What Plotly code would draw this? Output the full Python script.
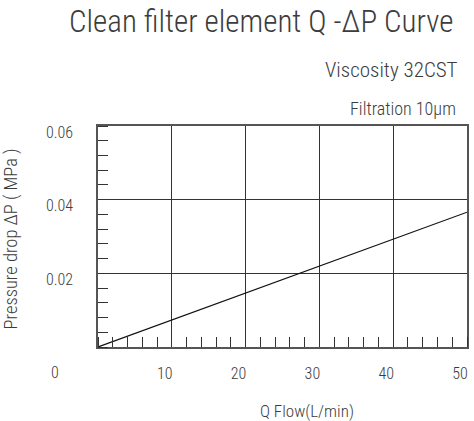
import plotly.graph_objects as go

# Data
flow_q = [0, 50]              # L/min
pressure_drop = [0, 0.0366]   # MPa
x_tick_vals = [10, 20, 30, 40, 50]
x_tick_text = ["10", "20", "30", "40", "50"]
y_tick_vals = [0.02, 0.04, 0.06]
y_tick_text = ["0.02", "0.04", "0.06"]

FONT = "Roboto Condensed, DejaVu Sans Condensed, sans-serif"
TXT = "#3c3c3c"

fig = go.Figure()
fig.add_trace(go.Scatter(x=flow_q, y=pressure_drop, mode="lines",
                         line=dict(color="#111111", width=1.2),
                         showlegend=False, hoverinfo="skip"))

W, H = 474, 421
L, R, T, B = 98, 5, 126, 74

fig.update_layout(
    width=W, height=H,
    margin=dict(l=L, r=R, t=T, b=B),
    paper_bgcolor="white", plot_bgcolor="white",
    font=dict(family=FONT, color=TXT, size=16, weight=300),
    showlegend=False,
)

fig.update_xaxes(
    range=[0, 50], tickvals=x_tick_vals, ticktext=x_tick_text,
    showgrid=True, gridcolor="#333333", gridwidth=1,
    showline=True, linecolor="#555555", linewidth=1.5, mirror=True,
    ticks="", ticklabelposition="outside", ticklabelstandoff=11, ticklabelshift=-7,
    tickfont=dict(family=FONT, size=16, color=TXT, weight=300),
    minor=dict(dtick=2, ticks="inside", ticklen=10, tickcolor="#333333", showgrid=False),
    zeroline=False,
)
fig.update_yaxes(
    range=[0, 0.06], tickvals=y_tick_vals, ticktext=y_tick_text,
    showgrid=True, gridcolor="#333333", gridwidth=1,
    showline=True, linecolor="#555555", linewidth=1.5, mirror=True,
    ticks="", ticklabelposition="outside", ticklabelstandoff=20, ticklabelshift=6,
    tickfont=dict(family=FONT, size=16, color=TXT, weight=300),
    minor=dict(dtick=0.004, ticks="inside", ticklen=10, tickcolor="#333333", showgrid=False),
    zeroline=False,
)

def px_x(p):
    return (p - L) / (W - L - R)

def px_y(p):
    return (H - B - p) / (H - T - B)

ann = [
    dict(text="Clean filter element Q -ΔP Curve", x=px_x(262), y=px_y(22), size=31),
    dict(text="Viscosity 32CST", x=px_x(462), y=px_y(70), size=21, xanchor="right"),
    dict(text="Filtration 10μm", x=px_x(460), y=px_y(108), size=18, xanchor="right"),
    dict(text="Q Flow(L/min)", x=px_x(308), y=px_y(411), size=17),
    dict(text="0", x=px_x(55), y=px_y(372), size=16),
]
for a in ann:
    fig.add_annotation(text=a["text"], xref="paper", yref="paper",
                       x=a["x"], y=a["y"], xanchor=a.get("xanchor", "center"),
                       yanchor="middle", showarrow=False,
                       font=dict(family=FONT, size=a["size"], color=TXT, weight=300))

fig.add_annotation(text="Pressure drop ΔP ( MPa )", xref="paper", yref="paper",
                   x=px_x(11), y=px_y(239), xanchor="center", yanchor="middle",
                   textangle=-90, showarrow=False,
                   font=dict(family=FONT, size=18.5, color=TXT, weight=300))

fig.write_html("out.html", config={"displayModeBar": False},
               post_script="document.body.style.margin='0px';")
